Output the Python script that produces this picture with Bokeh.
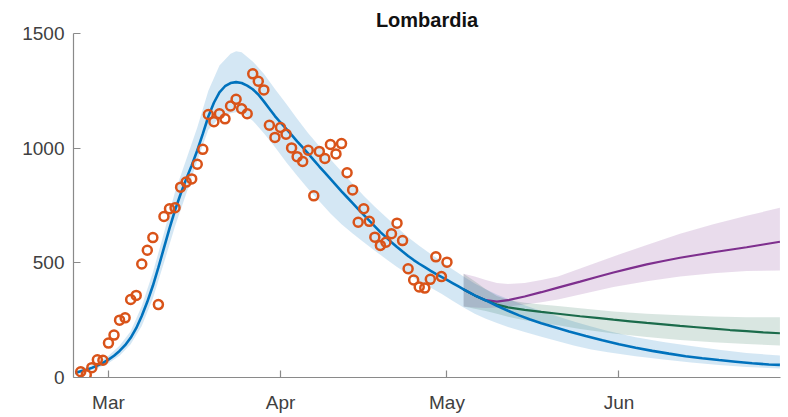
import pandas as pd
from bokeh.plotting import figure
from bokeh.models import Range1d, FixedTicker, DatetimeTickFormatter
from bokeh.embed import file_html
from bokeh.resources import INLINE

# ---------------- data ----------------
region = "Lombardia"
base_date = pd.Timestamp("2020-03-01")
first_case_date = "2020-02-25"

# daily new cases (observed), from 2020-02-25 to 2020-05-01
new_cases = [25, 12, 43, 77, 75, 150, 185, 250, 260, 340,
             358, 495, 555, 610, 318, 702, 736, 740, 830, 852,
             866, 930, 995, 1147, 1115, 1150, 1128, 1184, 1213, 1172,
             1150, 1324, 1292, 1254, 1100, 1047, 1090, 1061, 1001, 963,
             942, 991, 792, 986, 955, 1016, 975, 1020, 893, 818,
             677, 736, 681, 612, 576, 590, 627, 673, 597, 474,
             425, 395, 390, 428, 526, 440, 503]

# model fit (days since 2020-03-01)
fit_days = [-6, -5, -4, -3, -2, -1, 0, 1, 2, 3, 4, 5, 6, 7, 8, 9, 10, 11, 12, 13,
            14, 15, 16, 17, 18, 19, 20, 21, 22, 23, 24, 25, 26, 27, 28, 29, 30, 31,
            32, 33, 34, 35, 36, 37, 38, 39, 40, 41, 42, 43, 44, 45, 46, 47, 48, 49,
            50, 51, 52, 53, 54, 55, 56, 57, 58, 59, 60, 61, 62, 63, 64, 66, 68, 70,
            72, 74, 76, 78, 80, 83, 86, 89, 92, 95, 98, 101, 104, 107, 110, 113,
            116, 119, 121]
fit_values = [20, 27, 34, 42, 52, 64, 78, 95, 116, 141, 173, 215, 268, 330, 400, 480,
              565, 650, 730, 800, 865, 925, 990, 1062, 1138, 1198, 1243, 1270, 1284,
              1288, 1284, 1273, 1257, 1234, 1204, 1172, 1140, 1112, 1085, 1058, 1030,
              1003, 976, 948, 920, 893, 866, 839, 812, 786, 760, 734, 709, 684, 659,
              634, 612, 590, 569, 549, 530, 512, 496, 481, 466, 452, 439, 426, 412,
              398, 384, 358, 336, 313, 291, 271, 253, 237, 222, 201, 181, 162, 145,
              130, 116, 104, 93, 84, 76, 69, 62, 57, 55]

band_days = [-6, -4, -2, 0, 2, 4, 6, 8, 10, 12, 14, 16, 18, 20, 22, 23, 24, 26, 28,
             30, 32, 34, 36, 38, 40, 42, 44, 46, 48, 50, 52, 54, 56, 58, 60, 62, 64,
             66, 68, 70, 72, 75, 78, 81, 84, 87, 90, 95, 100, 105, 110, 115, 121]
band_lower = [12, 24, 40, 62, 95, 145, 225, 345, 500, 660, 800, 945, 1080, 1133, 1152,
              1157, 1155, 1120, 1065, 1005, 940, 880, 822, 768, 715, 668, 628, 590,
              553, 517, 482, 450, 420, 392, 365, 335, 305, 278, 256, 238, 220, 198,
              178, 158, 138, 122, 110, 93, 78, 65, 55, 46, 39]
band_upper = [28, 44, 64, 95, 138, 202, 312, 458, 630, 810, 950, 1090, 1250, 1360,
              1412, 1423, 1418, 1378, 1325, 1258, 1195, 1128, 1065, 1008, 952, 898,
              845, 793, 745, 700, 655, 612, 575, 540, 506, 472, 440, 410, 385, 362,
              342, 315, 290, 266, 243, 222, 203, 176, 155, 137, 121, 107, 96]

# scenario projections (days since 2020-03-01)
line_days = [64, 66, 68, 70, 72, 75, 78, 81, 85, 88, 91, 94, 97, 100, 103, 106,
             109, 112, 115, 118, 121]
proj_purple = [384, 358, 337, 331, 337, 353, 372, 392, 418, 438, 458, 476, 493, 508,
               522, 534, 546, 557, 568, 580, 592]
proj_green = [384, 358, 336, 318, 306, 295, 286, 278, 267, 260, 252, 245, 238, 232,
              225, 219, 213, 207, 202, 197, 193]

proj_days = [64, 66, 68, 70, 72, 75, 78, 81, 85, 91, 97, 103, 109, 115, 121]
purple_lower = [310, 305, 303, 305, 310, 318, 328, 340, 362, 395, 420, 440, 455, 464, 467]
purple_upper = [452, 440, 425, 412, 408, 412, 425, 440, 475, 528, 578, 627, 668, 705, 740]
green_lower = [310, 300, 290, 278, 265, 250, 238, 228, 212, 192, 177, 164, 154, 146, 140]
green_upper = [452, 420, 385, 355, 338, 326, 318, 312, 302, 288, 278, 271, 266, 263, 263]

month_ticks = ["2020-03-01", "2020-04-01", "2020-05-01", "2020-06-01"]
y_ticks = [0, 500, 1000, 1500]
x_limits = ["2020-02-23 16:48", "2020-06-30 02:30"]
y_limits = [0, 1500]

# ---------------- helpers ----------------
def to_dates(days):
    return base_date + pd.to_timedelta(days, unit="D")

case_dates = pd.date_range(first_case_date, periods=len(new_cases), freq="D")
fit_dates = to_dates(fit_days)
band_dates = to_dates(band_days)
line_dates = to_dates(line_days)
proj_dates = to_dates(proj_days)

BLUE = "#0072BD"
ORANGE = "#D95319"
PURPLE = "#7E2F8E"
GREEN = "#1B6B4B"

x0 = pd.Timestamp(x_limits[0])
x1 = pd.Timestamp(x_limits[1])

p = figure(width=788, height=417, output_backend="svg", toolbar_location=None,
           x_axis_type="datetime",
           x_range=Range1d(x0, x1), y_range=Range1d(*y_limits),
           min_border_left=73, min_border_right=8, min_border_top=33,
           min_border_bottom=40)
p.outline_line_color = None
p.background_fill_color = "white"
p.border_fill_color = "white"
p.xgrid.grid_line_color = None
p.ygrid.grid_line_color = None

p.title.text = region
p.title.align = "center"
p.title.text_font = "Liberation Sans"
p.title.text_font_style = "bold"
p.title.text_font_size = "20px"
p.title.text_color = "#111111"
p.title.standoff = 5

# bands
p.varea(x=band_dates, y1=band_lower, y2=band_upper, fill_color=BLUE, fill_alpha=0.17)
p.varea(x=proj_dates, y1=purple_lower, y2=purple_upper, fill_color=PURPLE, fill_alpha=0.17)
p.varea(x=proj_dates, y1=green_lower, y2=green_upper, fill_color=GREEN, fill_alpha=0.17)

# lines
p.line(line_dates, proj_purple, line_color=PURPLE, line_width=2.2)
p.line(line_dates, proj_green, line_color=GREEN, line_width=2.2)
p.line(fit_dates, fit_values, line_color=BLUE, line_width=2.6)

# observed points
p.scatter(case_dates, new_cases, marker="circle", size=9, line_color=ORANGE,
          line_width=2.5, fill_color=None)

# axes
tick_ms = [(pd.Timestamp(t) - pd.Timestamp("1970-01-01")) // pd.Timedelta(milliseconds=1)
           for t in month_ticks]
p.xaxis.ticker = FixedTicker(ticks=tick_ms)
p.xaxis.formatter = DatetimeTickFormatter(
    microseconds="%b", milliseconds="%b", seconds="%b", minsec="%b",
    minutes="%b", hourmin="%b", hours="%b", days="%b", months="%b", years="%b")
p.yaxis.ticker = FixedTicker(ticks=y_ticks)

for ax in (p.xaxis[0], p.yaxis[0]):
    ax.axis_line_color = "#8a8a8a"
    ax.axis_line_width = 1.2
    ax.major_tick_line_color = "#8a8a8a"
    ax.major_tick_line_width = 1.2
    ax.major_tick_in = 7
    ax.major_tick_out = 0
    ax.minor_tick_line_color = None
    ax.major_label_text_font = "Liberation Sans"
    ax.major_label_text_font_size = "19px"
    ax.major_label_text_color = "#404040"
p.xaxis.major_label_standoff = 14
p.yaxis.major_label_standoff = 9

open("out.html", "w").write(file_html(p, INLINE))
